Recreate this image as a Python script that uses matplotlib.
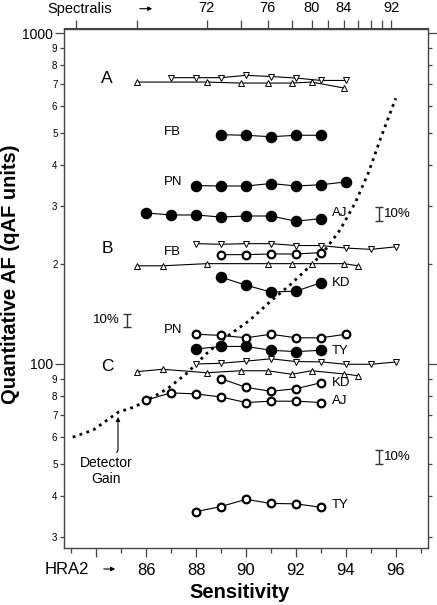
import matplotlib
matplotlib.use('Agg')
import matplotlib.pyplot as plt
import numpy as np

plt.rcParams['font.family'] = ['Liberation Sans', 'DejaVu Sans']

# Spectralis sensitivity values and where they sit on the HRA2 axis
spec_vals = [64, 68, 70, 72, 74, 76, 78, 80, 82, 84, 86, 88, 90, 92]
spec_pos = [83.2, 85.64, 86.66, 88.43, 89.79, 90.87, 91.83, 92.63, 93.29,
            93.92, 94.49, 95.0, 95.45, 95.8]
spec_labeled = [72, 76, 80, 84, 92]

# group A (Spectralis / HRA2 reference)
A_up_spec = [68, 72, 74, 76, 78, 80, 84]
A_up = [711, 711, 706, 706, 706, 711, 682]
A_down_x = [87, 88, 89, 90, 91, 92, 93, 94]
A_down = [733, 733, 733, 745, 739, 731, 719, 719]

# solid circles
FB_x = [89, 90, 91, 92, 93]
FB_solid = [493, 491, 486, 491, 491]
PN_x = [88, 89, 90, 91, 92, 93, 94]
PN_solid = [346, 345, 345, 351, 345, 348, 355]
AJ_x = [86, 87, 88, 89, 90, 91, 92, 93]
AJ_solid = [286, 282, 282, 278, 280, 280, 270, 275]
KD_x = [89, 90, 91, 92, 93]
KD_solid = [183, 173, 165, 166, 176]
TY_x = [88, 89, 90, 91, 92, 93]
TY_solid = [111, 113, 113, 110, 109, 110]

# group B
B_up_spec = [68, 70, 72, 76, 78, 80, 84, 86]
B_up = [198, 198, 201, 201, 201, 201, 201, 198]
B_down_x = [88, 89, 90, 91, 92, 93, 94, 95, 96]
B_down = [231, 230, 231, 231, 228, 228, 224, 222, 226]

# group C
C_up_spec = [68, 70, 72, 74, 76, 78, 80, 84, 86]
C_up = [94.8, 96.4, 94.1, 95.4, 95.4, 93.1, 95.4, 93.3, 92.2]
C_down_x = [88, 89, 90, 91, 92, 93, 94, 95, 96]
C_down = [100, 100.5, 102, 103.7, 101.7, 101.5, 99.8, 99.8, 101.4]

# open circles
FB_open = [214, 214, 215, 215, 217]
PN_open = [123, 122, 120, 123, 120, 120, 123]
KD_open = [90.3, 85, 82.7, 84.2, 87.8]
AJ_open = [77.8, 81.8, 81.2, 79.5, 76.5, 77.2, 77.2, 76.5]
TY_open = [35.8, 37.1, 39.0, 37.9, 37.8, 36.9]

# detector gain curve
gain_x = [83.07, 83.89, 84.89, 85.56, 86.56, 86.96, 87.63, 88.43, 89.23, 90.16,
          90.96, 91.76, 92.68, 93.16, 93.76, 94.36, 94.89, 95.36, 95.99]
gain_y = [60.1, 63.2, 71.5, 74.3, 81.6, 85.4, 93.7, 107.7, 120.9, 135.8,
          154.3, 173.3, 201.5, 221, 254, 306, 377, 475, 635]

# 10% bars (x, lower value)
bar_x = [95.32, 85.24, 95.32]
bar_lo = [271, 129, 50]

fig = plt.figure(figsize=(4.37, 6.05), dpi=100)
ax = fig.add_axes([64 / 437, 1 - 548 / 605, 363.5 / 437, 519.5 / 605])

def to_hra(spec):
    return np.interp(spec, spec_vals, spec_pos)

lw = 0.8
ax.plot(gain_x, gain_y, color='k', lw=2.0, linestyle=(0, (1.0, 1.6)), zorder=1)

tri = dict(color='k', lw=lw, ms=4.8, mfc='w', mec='k', mew=0.7, zorder=3)
for xs, ys in [(to_hra(A_up_spec), A_up), (to_hra(B_up_spec), B_up), (to_hra(C_up_spec), C_up)]:
    ax.plot(xs, ys, marker='^', **tri)
for xs, ys in [(A_down_x, A_down), (B_down_x, B_down), (C_down_x, C_down)]:
    ax.plot(xs, ys, marker='v', **tri)

solid = dict(color='k', lw=lw, marker='o', ms=7.3, mfc='k', mec='k', zorder=4)
for xs, ys in [(FB_x, FB_solid), (PN_x, PN_solid), (AJ_x, AJ_solid),
               (KD_x, KD_solid), (TY_x, TY_solid)]:
    ax.plot(xs, ys, **solid)

hollow = dict(color='k', lw=lw, marker='o', ms=5.5, mfc='w', mec='k', mew=1.6, zorder=4)
for xs, ys in [(FB_x, FB_open), (PN_x, PN_open), (KD_x, KD_open),
               (AJ_x, AJ_open), (TY_x, TY_open)]:
    ax.plot(xs, ys, **hollow)

# text labels
lab = dict(fontsize=9.5, va='center')
ax.text(87.4, 501, 'FB', ha='right', **lab)
ax.text(87.45, 354, 'PN', ha='right', **lab)
ax.text(87.4, 218, 'FB', ha='right', **lab)
ax.text(87.45, 126.6, 'PN', ha='right', **lab)
ax.text(93.45, 285, 'AJ', ha='left', **lab)
ax.text(93.45, 175.5, 'KD', ha='left', **lab)
ax.text(93.45, 109.4, 'TY', ha='left', **lab)
ax.text(93.45, 87.7, 'KD', ha='left', **lab)
ax.text(93.45, 77.3, 'AJ', ha='left', **lab)
ax.text(93.45, 37.6, 'TY', ha='left', **lab)

for t, yv in [('A', 729), ('B', 224), ('C', 98.6)]:
    ax.text(84.44, yv, t, fontsize=12.5, ha='center', va='center')

for bx, lo in zip(bar_x, bar_lo):
    ax.errorbar([bx], [lo], yerr=[[0], [lo * 0.1]], fmt='none', ecolor='#333333',
                elinewidth=1.0, capsize=2.6, capthick=1.0)
ax.text(bar_x[0] + 0.2, bar_lo[0] * 1.05, '10%', fontsize=9.5, ha='left', va='center')
ax.text(bar_x[1] - 0.3, bar_lo[1] * 1.05, '10%', fontsize=9.5, ha='right', va='center')
ax.text(bar_x[2] + 0.2, bar_lo[2] * 1.05, '10%', fontsize=9.5, ha='left', va='center')

ax.annotate('Detector\nGain', xy=(84.88, 69.2), xytext=(84.4, 47.5),
            ha='center', va='center', fontsize=10, linespacing=1.1,
            arrowprops=dict(arrowstyle='-|>', lw=0.8, color='k', mutation_scale=6,
                            shrinkA=1, shrinkB=0,
                            connectionstyle='angle,angleA=60,angleB=90,rad=0'))

# axes
ax.set_yscale('log')
ax.set_ylim(27.8, 1032)
ax.set_xlim(82.72, 97.26)

ax.set_xticks([84, 86, 88, 90, 92, 94, 96], ['', '86', '88', '90', '92', '94', '96'])
ax.set_xticks(np.arange(83, 98, 2), minor=True)

ax.set_yticks([100, 1000], ['100', '1000'])
minor_y = [30, 40, 50, 60, 70, 80, 90, 200, 300, 400, 500, 600, 700, 800, 900]
ax.set_yticks(minor_y, [str(v)[0] for v in minor_y], minor=True)

spine_c = '#444444'
for s in ax.spines.values():
    s.set_color(spine_c)
    s.set_linewidth(1.0)
ax.tick_params(axis='both', which='both', direction='out', color=spine_c, width=0.9)
ax.tick_params(axis='x', which='major', length=6.5, labelsize=12, pad=4)
ax.tick_params(axis='x', which='minor', length=3.4)
ax.tick_params(axis='y', which='major', length=6.5, labelsize=10, pad=1.5, right=True)
ax.tick_params(axis='y', which='minor', length=3.2, labelsize=7, pad=1.5, right=True)

top = ax.secondary_xaxis('top')
spec_ticks = [v for v in spec_vals if v != 70]
top.set_xticks(to_hra(spec_ticks),
               [str(v) if v in spec_labeled else '' for v in spec_ticks])
top.tick_params(direction='out', length=6, width=0.9, color=spine_c,
                labelsize=10.5, pad=4)
top.spines['top'].set_color(spine_c)

# axis titles and axis-name arrows
fig.text(10.5 / 437, 1 - 274.5 / 605, 'Quantitative AF (qAF units)', rotation=90,
         fontsize=14.5, fontweight='bold', ha='center', va='center')
fig.text(240 / 437, 1 - 593 / 605, 'Sensitivity', fontsize=14.5,
         fontweight='bold', ha='center', va='center')

fig.text(45 / 437, 1 - 569 / 605, 'HRA2', fontsize=12, ha='left', va='center')
fig.text(47 / 437, 1 - 8.7 / 605, 'Spectralis', fontsize=10.5, ha='left', va='center')
for x0, x1, yy in [(101, 118, 569), (137, 155, 8.7)]:
    fig.patches.append(matplotlib.patches.FancyArrowPatch(
        (x0 / 437, 1 - yy / 605), (x1 / 437, 1 - yy / 605),
        transform=fig.transFigure, arrowstyle='-|>', mutation_scale=6,
        lw=0.8, color='k'))

fig.savefig('out.png', dpi=100)
